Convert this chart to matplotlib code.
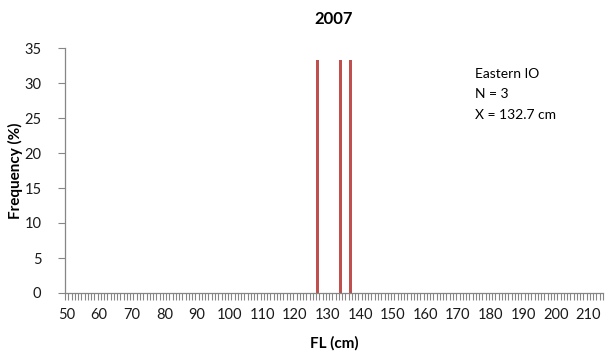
import matplotlib
matplotlib.use("Agg")
import matplotlib.pyplot as plt
import numpy as np

plt.rcParams['font.family'] = ['Lato', 'DejaVu Sans']

# Fork length classes (cm) and observed fish lengths
fl_min, fl_max = 50, 214
lengths = [127, 134, 137]
freq = [100.0 / len(lengths)] * len(lengths)
tick_labels = list(range(50, 211, 10))
y_ticks = [0, 5, 10, 15, 20, 25, 30, 35]
region = "Eastern IO"
mean_fl = sum(lengths) / len(lengths)

bar_color = "#C0504D"
axis_color = "#868686"
text_color = "#1a1a1a"

fig = plt.figure(figsize=(6.05, 3.58), dpi=100)
ax = fig.add_axes([65 / 605, 65 / 358, 538 / 605, 245 / 358])

ax.bar(lengths, freq, width=0.8, color=bar_color, edgecolor="none")

ax.set_xlim(fl_min - 0.5, fl_max + 0.5)
ax.set_ylim(0, 35)

# category ticks between classes, labels every 10 cm
ax.set_xticks(tick_labels)
ax.set_xticklabels([str(t) for t in tick_labels])
ax.set_xticks(np.arange(fl_min - 0.5, fl_max + 1.0, 1.0), minor=True)
ax.tick_params(axis="x", which="major", length=0, pad=11, labelsize=10.5, colors=text_color)
ax.tick_params(axis="x", which="minor", length=5, width=0.8, color=axis_color, direction="out")
ax.set_yticks(y_ticks)
ax.tick_params(axis="y", length=5, width=0.8, color=axis_color, direction="out",
               labelsize=10.5, labelcolor=text_color, pad=12)

for side in ("top", "right"):
    ax.spines[side].set_visible(False)
for side in ("left", "bottom"):
    ax.spines[side].set_color(axis_color)
    ax.spines[side].set_linewidth(0.9)

ax.set_title("2007", fontsize=12, fontweight="bold", pad=17, color="black")
ax.set_xlabel("FL (cm)", fontsize=11, fontweight="bold", labelpad=10)
ax.set_ylabel("Frequency (%)", fontsize=11, fontweight="bold", labelpad=1)

ax.text(0.762, 0.895, region, transform=ax.transAxes, fontsize=10, va="center", color="black")
ax.text(0.762, 0.812, f"N = {len(lengths)}", transform=ax.transAxes, fontsize=10, va="center", color="black")
ax.text(0.762, 0.727, f"X = {mean_fl:.1f} cm", transform=ax.transAxes, fontsize=10, va="center", color="black")

fig.savefig("out.png", dpi=100)
